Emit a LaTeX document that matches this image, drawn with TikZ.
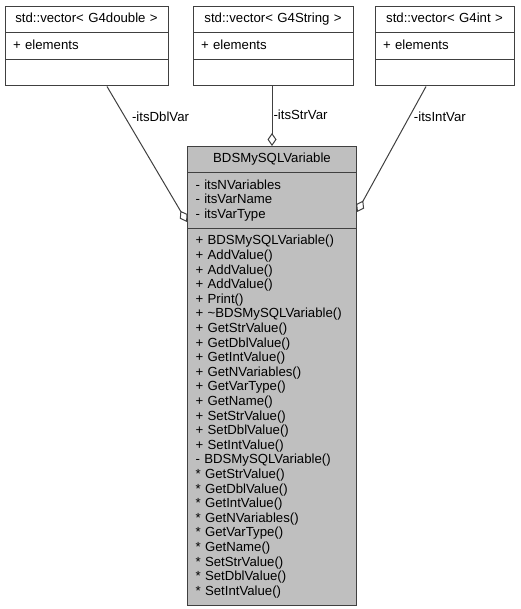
\documentclass[tikz,border=0pt]{standalone}
\usepackage{fontspec}
\setmainfont{Liberation Sans}
\usetikzlibrary{shapes.multipart,arrows.meta}

\begin{document}
\begin{tikzpicture}[x=1pt,y=-1pt,font=\fontsize{13.2}{14.6}\selectfont,
  class node/.style={rectangle split,rectangle split parts=3,draw=black!75,line width=1pt,
    inner xsep=8pt,inner ysep=5.45pt,align=left,anchor=north,fill=white},
  main class/.style={class node,fill=black!25,text width=153pt},
  agg/.style={-{Diamond[open,length=13pt,width=9pt]},draw=black!75,line width=1pt},
  role/.style={inner sep=0pt,anchor=west}]

  \useasboundingbox (0,0) rectangle (520,609);

  \node[class node,text width=147pt] (vecDbl) at (86.5,6)
    {\makebox[\linewidth]{\strut std::vector< G4double >}\nodepart{two}\strut + elements\nodepart{three}\strut};
  \node[class node,text width=144pt] (vecStr) at (273,6)
    {\makebox[\linewidth]{\strut std::vector< G4String >}\nodepart{two}\strut + elements\nodepart{three}\strut};
  \node[class node,text width=123pt] (vecInt) at (444.5,6)
    {\makebox[\linewidth]{\strut std::vector< G4int >}\nodepart{two}\strut + elements\nodepart{three}\strut};

  \node[main class] (var) at (272,146)
    {\makebox[\linewidth]{\strut BDSMySQLVariable}
     \nodepart{two}\strut - itsNVariables\\
       - itsVarName\\
       - itsVarType\strut
     \nodepart{three}\strut + BDSMySQLVariable()\\
       + AddValue()\\
       + AddValue()\\
       + AddValue()\\
       + Print()\\
       + \textasciitilde BDSMySQLVariable()\\
       + GetStrValue()\\
       + GetDblValue()\\
       + GetIntValue()\\
       + GetNVariables()\\
       + GetVarType()\\
       + GetName()\\
       + SetStrValue()\\
       + SetDblValue()\\
       + SetIntValue()\\
       - BDSMySQLVariable()\\
       {*} GetStrValue()\\
       {*} GetDblValue()\\
       {*} GetIntValue()\\
       {*} GetNVariables()\\
       {*} GetVarType()\\
       {*} GetName()\\
       {*} SetStrValue()\\
       {*} SetDblValue()\\
       {*} SetIntValue()\strut};

  \draw[agg] ([xshift=20.5pt]vecDbl.south) -- node[role,pos=0.22,xshift=7pt] {-itsDblVar}
    ([yshift=-76pt]var.north west);
  \draw[agg] (var.north |- vecStr.south) -- node[role,pos=0.47,xshift=1pt] {-itsStrVar}
    (var.north);
  \draw[agg] ([xshift=-18.5pt]vecInt.south) -- node[role,pos=0.24,xshift=4pt] {-itsIntVar}
    ([yshift=-66pt]var.north east);

\end{tikzpicture}
\end{document}
